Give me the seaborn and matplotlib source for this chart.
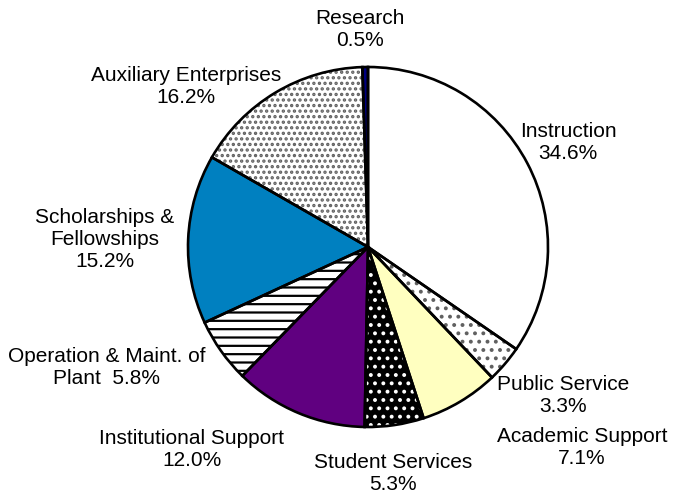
import matplotlib
matplotlib.use("Agg")
import matplotlib.pyplot as plt
import seaborn as sns

# Expense categories, clockwise from the top
categories = ["Instruction", "Public Service", "Academic Support", "Student Services",
              "Institutional Support", "Operation & Maint. of Plant", "Scholarships & Fellowships",
              "Auxiliary Enterprises", "Research"]
shares = [34.6, 3.3, 7.1, 5.3, 12.0, 5.8, 15.2, 16.2, 0.5]
label_texts = ["Instruction\n34.6%", "Public Service\n3.3%", "Academic Support\n7.1%",
               "Student Services\n5.3%", "Institutional Support\n12.0%",
               "Operation & Maint. of\nPlant  5.8%", "Scholarships &\nFellowships\n15.2%",
               "Auxiliary Enterprises\n16.2%", "Research\n0.5%"]

face_colors = ["#FFFFFF", "#FFFFFF", "#FFFFC0", "#000000", "#600080",
               "#FFFFFF", "#0080C0", "#FFFFFF", "#000080"]
hatches = [None, "..", None, "..", None, "--", None, "...", None]
hatch_colors = ["#FFFFFF", "#606060", "#FFFFC0", "#FFFFFF", "#600080",
                "#000000", "#0080C0", "#606060", "#000080"]

# label centres in pixels of the 673x502 figure
label_px = [(568, 143), (563, 396), (582, 448), (393, 474), (192, 450),
            (107, 368), (105, 240), (186, 87), (360, 30)]

sns.set_style("white")
plt.rcParams["font.family"] = ["Liberation Sans", "DejaVu Sans"]
plt.rcParams["hatch.linewidth"] = 1.6

cx, cy, r = 368, 248, 180
W, H = 673, 502

fig = plt.figure(figsize=(6.73, 5.02), dpi=100)
ax = fig.add_axes([0, 0, 1, 1])

# fills with hatch patterns
wedges, _ = ax.pie(shares, colors=face_colors, startangle=90, counterclock=False,
                   wedgeprops=dict(linewidth=0))
for w, h, hc in zip(wedges, hatches, hatch_colors):
    w.set_edgecolor(hc)
    if h:
        w.set_hatch(h)

# black outlines on top
ax.pie(shares, colors=["none"] * len(shares), startangle=90, counterclock=False,
       wedgeprops=dict(linewidth=1.9, edgecolor="black", facecolor="none"))

for txt, (px, py) in zip(label_texts, label_px):
    ax.text((px - cx) / r, (cy - py) / r, txt, ha="center", va="center",
            fontsize=15, linespacing=1.2, color="black")

ax.set_xlim(-cx / r, (W - cx) / r)
ax.set_ylim(-(H - cy) / r, cy / r)
ax.set_aspect("equal")
ax.axis("off")

fig.savefig("out.png", dpi=100, facecolor="white")
